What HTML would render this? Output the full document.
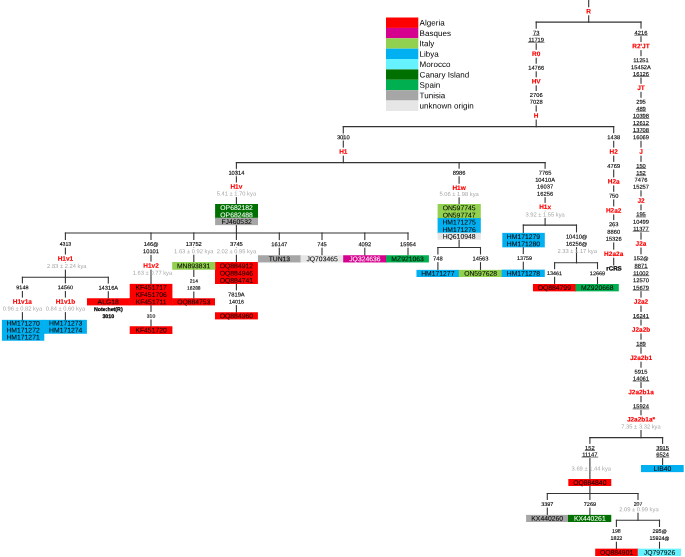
<!DOCTYPE html>
<html lang="en">
<head>
<meta charset="utf-8">
<title>Phylogenetic tree</title>
<style>
html,body{margin:0;padding:0;background:#fff;}
svg{display:block;font-family:'Liberation Sans', Arial, sans-serif;}
.ln line{stroke:#333;stroke-width:1.1;stroke-linecap:square;}
.mk rect{fill:#fff;}
text{text-anchor:middle;text-rendering:geometricPrecision;}
.n{font-size:5.75px;fill:#000;stroke:#000;stroke-width:0.12;}
.u{stroke:#222;stroke-width:0.6;}
.c{font-size:6.5px;font-weight:bold;fill:#ff0000;stroke:#ff0000;stroke-width:0.15;}
.k{font-size:5.77px;fill:#a6a6a6;}
.b{font-size:5.3px;font-weight:bold;fill:#000;stroke:#000;stroke-width:0.25;}
.x{font-size:6.8px;fill:#000;stroke:#000;stroke-width:0.05;}
.w{fill:#fff;stroke:#fff;}
.l{font-size:8.05px;fill:#000;text-anchor:start;}
</style>
</head>
<body>
<svg width="685" height="557" viewBox="0 0 685 557">
<rect width="685" height="557" fill="#fff"/>
<g class="ln">
<line x1="588.7" y1="0.0" x2="588.7" y2="22.1"/>
<line x1="536.2" y1="22.1" x2="641.0" y2="22.1"/>
<line x1="536.2" y1="22.1" x2="536.2" y2="126.6"/>
<line x1="641.0" y1="22.1" x2="641.0" y2="437.6"/>
<line x1="343.3" y1="126.6" x2="613.7" y2="126.6"/>
<line x1="343.3" y1="126.6" x2="343.3" y2="162.6"/>
<line x1="613.7" y1="126.6" x2="613.7" y2="265.0"/>
<line x1="236.4" y1="162.6" x2="545.1" y2="162.6"/>
<line x1="236.4" y1="162.6" x2="236.4" y2="312.2"/>
<line x1="65.4" y1="233.0" x2="408.0" y2="233.0"/>
<line x1="65.4" y1="233.0" x2="65.4" y2="277.2"/>
<line x1="22.4" y1="277.2" x2="108.3" y2="277.2"/>
<line x1="22.4" y1="277.2" x2="22.4" y2="319.8"/>
<line x1="65.4" y1="277.2" x2="65.4" y2="319.8"/>
<line x1="108.3" y1="277.2" x2="108.3" y2="298.2"/>
<line x1="151.0" y1="233.0" x2="151.0" y2="326.3"/>
<line x1="193.8" y1="233.0" x2="193.8" y2="298.2"/>
<line x1="279.3" y1="233.0" x2="279.3" y2="255.2"/>
<line x1="322.0" y1="233.0" x2="322.0" y2="255.2"/>
<line x1="364.8" y1="233.0" x2="364.8" y2="255.2"/>
<line x1="408.0" y1="233.0" x2="408.0" y2="255.2"/>
<line x1="459.1" y1="162.6" x2="459.1" y2="247.5"/>
<line x1="437.9" y1="247.5" x2="480.5" y2="247.5"/>
<line x1="437.9" y1="247.5" x2="437.9" y2="269.8"/>
<line x1="480.5" y1="247.5" x2="480.5" y2="269.8"/>
<line x1="545.1" y1="162.6" x2="545.1" y2="225.1"/>
<line x1="523.3" y1="225.1" x2="576.5" y2="225.1"/>
<line x1="523.3" y1="225.1" x2="523.3" y2="269.6"/>
<line x1="576.5" y1="225.1" x2="576.5" y2="262.8"/>
<line x1="554.6" y1="262.8" x2="597.5" y2="262.8"/>
<line x1="554.6" y1="262.8" x2="554.6" y2="283.9"/>
<line x1="597.5" y1="262.8" x2="597.5" y2="283.9"/>
<line x1="589.9" y1="437.6" x2="662.6" y2="437.6"/>
<line x1="589.9" y1="437.6" x2="589.9" y2="493.5"/>
<line x1="547.3" y1="493.5" x2="638.0" y2="493.5"/>
<line x1="547.3" y1="493.5" x2="547.3" y2="514.8"/>
<line x1="589.9" y1="493.5" x2="589.9" y2="514.8"/>
<line x1="638.0" y1="493.5" x2="638.0" y2="520.2"/>
<line x1="616.4" y1="520.2" x2="659.5" y2="520.2"/>
<line x1="616.4" y1="520.2" x2="616.4" y2="548.9"/>
<line x1="659.5" y1="520.2" x2="659.5" y2="548.9"/>
<line x1="662.6" y1="437.6" x2="662.6" y2="465.1"/>
</g>
<g class="mk">
<rect x="585.9" y="7.3" width="5.5" height="8.0"/>
<rect x="532.5" y="28.7" width="7.4" height="7.6"/>
<rect x="527.7" y="35.7" width="17.0" height="7.6"/>
<rect x="531.6" y="49.8" width="9.2" height="8.0"/>
<rect x="527.7" y="63.7" width="17.0" height="7.6"/>
<rect x="531.2" y="77.3" width="10.1" height="8.0"/>
<rect x="529.3" y="91.0" width="13.8" height="7.6"/>
<rect x="529.3" y="97.7" width="13.8" height="7.6"/>
<rect x="533.4" y="111.6" width="5.5" height="8.0"/>
<rect x="634.1" y="28.6" width="13.8" height="7.6"/>
<rect x="631.1" y="42.1" width="19.8" height="8.0"/>
<rect x="632.5" y="56.2" width="17.0" height="7.6"/>
<rect x="630.5" y="63.2" width="21.0" height="7.6"/>
<rect x="632.5" y="69.9" width="17.0" height="7.6"/>
<rect x="636.0" y="83.8" width="10.1" height="8.0"/>
<rect x="635.7" y="97.8" width="10.6" height="7.6"/>
<rect x="635.7" y="104.6" width="10.6" height="7.6"/>
<rect x="632.5" y="111.8" width="17.0" height="7.6"/>
<rect x="632.5" y="119.0" width="17.0" height="7.6"/>
<rect x="632.5" y="125.9" width="17.0" height="7.6"/>
<rect x="632.5" y="133.2" width="17.0" height="7.6"/>
<rect x="638.2" y="147.6" width="5.5" height="8.0"/>
<rect x="635.7" y="161.9" width="10.6" height="7.6"/>
<rect x="635.7" y="169.0" width="10.6" height="7.6"/>
<rect x="634.1" y="175.6" width="13.8" height="7.6"/>
<rect x="632.5" y="182.7" width="17.0" height="7.6"/>
<rect x="636.4" y="196.5" width="9.2" height="8.0"/>
<rect x="635.7" y="210.3" width="10.6" height="7.6"/>
<rect x="632.5" y="217.7" width="17.0" height="7.6"/>
<rect x="632.5" y="224.7" width="17.0" height="7.6"/>
<rect x="634.6" y="239.6" width="12.8" height="8.0"/>
<rect x="632.8" y="254.3" width="16.4" height="7.6"/>
<rect x="634.1" y="261.8" width="13.8" height="7.6"/>
<rect x="632.5" y="269.1" width="17.0" height="7.6"/>
<rect x="632.5" y="276.3" width="17.0" height="7.6"/>
<rect x="632.5" y="283.6" width="17.0" height="7.6"/>
<rect x="632.8" y="297.6" width="16.4" height="8.0"/>
<rect x="632.5" y="311.9" width="17.0" height="7.6"/>
<rect x="631.0" y="325.5" width="20.1" height="8.0"/>
<rect x="635.7" y="339.7" width="10.6" height="7.6"/>
<rect x="629.2" y="353.7" width="23.7" height="8.0"/>
<rect x="634.1" y="367.7" width="13.8" height="7.6"/>
<rect x="632.5" y="374.5" width="17.0" height="7.6"/>
<rect x="627.3" y="388.0" width="27.3" height="8.0"/>
<rect x="632.5" y="402.3" width="17.0" height="7.6"/>
<rect x="626.1" y="415.3" width="29.8" height="8.0"/>
<rect x="620.4" y="423.2" width="41.1" height="6.8"/>
<rect x="336.4" y="133.2" width="13.8" height="7.6" fill-opacity="0.65"/>
<rect x="338.7" y="147.6" width="9.2" height="8.0"/>
<rect x="606.8" y="133.2" width="13.8" height="7.6"/>
<rect x="609.1" y="147.6" width="9.2" height="8.0"/>
<rect x="606.8" y="161.9" width="13.8" height="7.6"/>
<rect x="607.3" y="177.4" width="12.8" height="8.0"/>
<rect x="608.4" y="191.8" width="10.6" height="7.6"/>
<rect x="605.5" y="206.4" width="16.4" height="8.0"/>
<rect x="608.4" y="220.1" width="10.6" height="7.6"/>
<rect x="606.8" y="227.7" width="13.8" height="7.6"/>
<rect x="605.2" y="234.8" width="17.0" height="7.6"/>
<rect x="603.7" y="249.7" width="20.1" height="8.0"/>
<rect x="227.9" y="168.8" width="17.0" height="7.6" fill-opacity="0.75"/>
<rect x="230.0" y="182.5" width="12.8" height="8.0"/>
<rect x="215.8" y="190.3" width="41.1" height="6.8"/>
<rect x="229.5" y="240.0" width="13.8" height="7.6"/>
<rect x="215.8" y="247.9" width="41.1" height="6.8"/>
<rect x="227.5" y="290.4" width="17.8" height="7.6"/>
<rect x="228.4" y="297.5" width="16.0" height="7.6"/>
<rect x="59.1" y="240.0" width="12.6" height="7.6"/>
<rect x="57.2" y="254.5" width="16.4" height="8.0"/>
<rect x="46.2" y="262.8" width="41.1" height="6.8"/>
<rect x="15.8" y="283.4" width="13.1" height="7.6"/>
<rect x="12.4" y="297.6" width="20.1" height="8.0"/>
<rect x="1.8" y="305.3" width="41.1" height="6.8"/>
<rect x="57.3" y="283.4" width="16.2" height="7.6"/>
<rect x="55.4" y="297.6" width="20.1" height="8.0"/>
<rect x="44.8" y="305.3" width="41.1" height="6.8"/>
<rect x="97.8" y="283.6" width="21.0" height="7.6"/>
<rect x="142.8" y="240.0" width="16.4" height="7.6"/>
<rect x="142.5" y="247.3" width="17.0" height="7.6"/>
<rect x="142.8" y="261.6" width="16.4" height="8.0"/>
<rect x="146.2" y="311.9" width="9.5" height="7.6"/>
<rect x="185.3" y="240.0" width="17.0" height="7.6"/>
<rect x="173.2" y="247.9" width="41.1" height="6.8"/>
<rect x="189.2" y="277.0" width="9.2" height="7.6"/>
<rect x="186.5" y="283.9" width="14.6" height="7.6"/>
<rect x="270.8" y="240.1" width="17.0" height="7.6"/>
<rect x="316.7" y="240.1" width="10.6" height="7.6"/>
<rect x="357.9" y="240.1" width="13.8" height="7.6"/>
<rect x="399.5" y="240.1" width="17.0" height="7.6"/>
<rect x="452.2" y="168.7" width="13.8" height="7.6"/>
<rect x="452.7" y="183.8" width="12.8" height="8.0"/>
<rect x="438.5" y="190.6" width="41.1" height="6.8"/>
<rect x="432.6" y="254.5" width="10.6" height="7.6"/>
<rect x="472.0" y="254.5" width="17.0" height="7.6"/>
<rect x="538.2" y="168.8" width="13.8" height="7.6"/>
<rect x="534.6" y="175.6" width="21.0" height="7.6"/>
<rect x="536.6" y="182.4" width="17.0" height="7.6"/>
<rect x="536.6" y="189.6" width="17.0" height="7.6"/>
<rect x="538.7" y="202.9" width="12.8" height="8.0"/>
<rect x="524.5" y="211.2" width="41.1" height="6.8"/>
<rect x="516.6" y="254.1" width="16.0" height="7.6"/>
<rect x="565.1" y="232.4" width="22.8" height="7.6"/>
<rect x="565.1" y="239.6" width="22.8" height="7.6"/>
<rect x="546.6" y="269.2" width="16.0" height="7.6"/>
<rect x="589.4" y="269.2" width="16.3" height="7.6"/>
<rect x="584.6" y="443.9" width="10.6" height="7.6"/>
<rect x="581.4" y="450.5" width="17.0" height="7.6"/>
<rect x="540.7" y="500.0" width="13.2" height="7.6"/>
<rect x="583.3" y="500.0" width="13.2" height="7.6"/>
<rect x="633.2" y="500.0" width="9.7" height="7.6"/>
<rect x="618.3" y="505.9" width="41.1" height="6.8"/>
<rect x="611.6" y="527.0" width="9.7" height="7.6"/>
<rect x="610.0" y="534.1" width="12.8" height="7.6"/>
<rect x="651.6" y="527.0" width="15.8" height="7.6"/>
<rect x="648.8" y="534.1" width="21.5" height="7.6"/>
<rect x="655.7" y="443.9" width="13.8" height="7.6"/>
<rect x="655.7" y="450.5" width="13.8" height="7.6"/>
</g>
<defs><clipPath id="bc">
<rect x="215.1" y="204.0" width="42.9" height="14.3"/>
<rect x="215.1" y="218.0" width="42.9" height="7.2"/>
<rect x="215.0" y="262.1" width="42.9" height="21.9"/>
<rect x="215.0" y="312.2" width="42.9" height="7.3"/>
<rect x="1.8" y="319.7" width="42.6" height="21.0"/>
<rect x="44.4" y="319.7" width="42.5" height="14.0"/>
<rect x="86.9" y="298.2" width="42.7" height="7.3"/>
<rect x="129.6" y="283.8" width="42.9" height="21.7"/>
<rect x="129.6" y="326.3" width="42.9" height="7.8"/>
<rect x="172.2" y="262.1" width="42.8" height="7.6"/>
<rect x="172.5" y="298.2" width="42.5" height="7.3"/>
<rect x="257.9" y="255.2" width="42.9" height="7.4"/>
<rect x="300.8" y="255.2" width="42.7" height="7.4"/>
<rect x="343.5" y="255.2" width="42.9" height="7.4"/>
<rect x="386.4" y="255.2" width="42.5" height="7.4"/>
<rect x="437.5" y="204.1" width="43.3" height="14.7"/>
<rect x="437.5" y="218.4" width="43.3" height="14.9"/>
<rect x="437.5" y="233.0" width="43.3" height="6.8"/>
<rect x="416.4" y="269.8" width="42.7" height="7.2"/>
<rect x="459.1" y="269.8" width="42.9" height="7.2"/>
<rect x="502.3" y="232.8" width="42.5" height="14.6"/>
<rect x="502.0" y="269.6" width="42.8" height="7.4"/>
<rect x="532.9" y="283.9" width="42.9" height="7.5"/>
<rect x="575.8" y="283.9" width="43.0" height="7.5"/>
<rect x="568.3" y="478.9" width="43.1" height="7.2"/>
<rect x="526.1" y="514.8" width="42.2" height="7.2"/>
<rect x="568.3" y="514.8" width="43.1" height="7.2"/>
<rect x="595.2" y="548.6" width="42.8" height="7.5"/>
<rect x="638.0" y="548.6" width="43.0" height="7.5"/>
<rect x="641.0" y="465.1" width="42.7" height="7.1"/>
</clipPath></defs>
<g clip-path="url(#bc)">
<rect x="214.8" y="203.7" width="43.5" height="14.9" fill="#007000"/>
<rect x="214.8" y="217.7" width="43.5" height="7.8" fill="#a6a6a6"/>
<rect x="214.7" y="261.8" width="43.5" height="22.5" fill="#ff0000"/>
<rect x="214.7" y="311.9" width="43.5" height="7.9" fill="#ff0000"/>
<rect x="1.5" y="319.4" width="43.2" height="21.6" fill="#00b0f0"/>
<rect x="44.1" y="319.4" width="43.1" height="14.6" fill="#00b0f0"/>
<rect x="86.6" y="297.9" width="43.3" height="7.9" fill="#ff0000"/>
<rect x="129.3" y="283.5" width="43.5" height="22.3" fill="#ff0000"/>
<rect x="129.3" y="326.0" width="43.5" height="8.3" fill="#ff0000"/>
<rect x="171.9" y="261.8" width="43.4" height="8.2" fill="#92d050"/>
<rect x="172.2" y="297.9" width="43.1" height="7.9" fill="#ff0000"/>
<rect x="257.6" y="254.9" width="43.5" height="8.0" fill="#a6a6a6"/>
<rect x="300.5" y="254.9" width="43.3" height="8.0" fill="#e6e6e6"/>
<rect x="343.2" y="254.9" width="43.5" height="8.0" fill="#d6008e"/>
<rect x="386.1" y="254.9" width="43.1" height="8.0" fill="#00b050"/>
<rect x="437.2" y="203.8" width="43.9" height="15.3" fill="#92d050"/>
<rect x="437.2" y="218.1" width="43.9" height="15.5" fill="#00b0f0"/>
<rect x="437.2" y="232.7" width="43.9" height="7.4" fill="#e6e6e6"/>
<rect x="416.1" y="269.5" width="43.3" height="7.8" fill="#00b0f0"/>
<rect x="458.8" y="269.5" width="43.5" height="7.8" fill="#92d050"/>
<rect x="502.0" y="232.5" width="43.1" height="15.2" fill="#00b0f0"/>
<rect x="501.7" y="269.3" width="43.4" height="8.0" fill="#00b0f0"/>
<rect x="532.6" y="283.6" width="43.5" height="8.1" fill="#ff0000"/>
<rect x="575.5" y="283.6" width="43.6" height="8.1" fill="#00b050"/>
<rect x="568.0" y="478.6" width="43.7" height="7.8" fill="#ff0000"/>
<rect x="525.8" y="514.5" width="42.8" height="7.8" fill="#a6a6a6"/>
<rect x="568.0" y="514.5" width="43.7" height="7.8" fill="#007000"/>
<rect x="594.9" y="548.3" width="43.4" height="8.1" fill="#ff0000"/>
<rect x="637.7" y="548.3" width="43.6" height="8.1" fill="#66f2ff"/>
<rect x="640.7" y="464.8" width="43.3" height="7.7" fill="#00b0f0"/>
</g>
<g class="bx">
<text class="x w" x="236.6" y="210.02" transform="rotate(0.05 236.6 210.02)">OP682182</text>
<text class="x w" x="236.6" y="217.20" transform="rotate(0.05 236.6 217.20)">OP682488</text>
<text class="x" x="236.6" y="224.06" transform="rotate(0.05 236.6 224.06)">FJ460532</text>
<text class="x" x="236.4" y="268.18" transform="rotate(0.05 236.4 268.18)">OQ884912</text>
<text class="x" x="236.4" y="275.46" transform="rotate(0.05 236.4 275.46)">OQ884946</text>
<text class="x" x="236.4" y="282.74" transform="rotate(0.05 236.4 282.74)">OQ884741</text>
<text class="x" x="236.4" y="318.26" transform="rotate(0.05 236.4 318.26)">OQ884960</text>
<text class="x" x="23.1" y="325.63" transform="rotate(0.05 23.1 325.63)">HM171270</text>
<text class="x" x="23.1" y="332.61" transform="rotate(0.05 23.1 332.61)">HM171272</text>
<text class="x" x="23.1" y="339.59" transform="rotate(0.05 23.1 339.59)">HM171271</text>
<text class="x" x="65.7" y="325.62" transform="rotate(0.05 65.7 325.62)">HM171273</text>
<text class="x" x="65.7" y="332.60" transform="rotate(0.05 65.7 332.60)">HM171274</text>
<text class="x" x="108.2" y="304.26" transform="rotate(0.05 108.2 304.26)">ALG18</text>
<text class="x" x="151.1" y="289.84" transform="rotate(0.05 151.1 289.84)">KF451717</text>
<text class="x" x="151.1" y="297.06" transform="rotate(0.05 151.1 297.06)">KF451706</text>
<text class="x" x="151.1" y="304.28" transform="rotate(0.05 151.1 304.28)">KF451711</text>
<text class="x" x="151.1" y="332.61" transform="rotate(0.05 151.1 332.61)">KF451720</text>
<text class="x" x="193.6" y="268.36" transform="rotate(0.05 193.6 268.36)">MN893831</text>
<text class="x" x="193.8" y="304.26" transform="rotate(0.05 193.8 304.26)">OQ884753</text>
<text class="x" x="279.4" y="261.31" transform="rotate(0.05 279.4 261.31)">TUN13</text>
<text class="x" x="322.1" y="261.31" transform="rotate(0.05 322.1 261.31)">JQ703465</text>
<text class="x w" x="364.9" y="261.31" transform="rotate(0.05 364.9 261.31)">JQ324636</text>
<text class="x" x="407.6" y="261.31" transform="rotate(0.05 407.6 261.31)">MZ921063</text>
<text class="x" x="459.1" y="210.20" transform="rotate(0.05 459.1 210.20)">ON597745</text>
<text class="x" x="459.1" y="217.52" transform="rotate(0.05 459.1 217.52)">ON597747</text>
<text class="x" x="459.1" y="224.57" transform="rotate(0.05 459.1 224.57)">HM171275</text>
<text class="x" x="459.1" y="232.05" transform="rotate(0.05 459.1 232.05)">HM171276</text>
<text class="x" x="459.1" y="238.86" transform="rotate(0.05 459.1 238.86)">HQ610948</text>
<text class="x" x="437.8" y="275.86" transform="rotate(0.05 437.8 275.86)">HM171277</text>
<text class="x" x="480.6" y="275.86" transform="rotate(0.05 480.6 275.86)">ON597628</text>
<text class="x" x="523.5" y="238.90" transform="rotate(0.05 523.5 238.90)">HM171279</text>
<text class="x" x="523.5" y="246.22" transform="rotate(0.05 523.5 246.22)">HM171280</text>
<text class="x" x="523.4" y="275.76" transform="rotate(0.05 523.4 275.76)">HM171278</text>
<text class="x" x="554.3" y="290.06" transform="rotate(0.05 554.3 290.06)">OQ884799</text>
<text class="x" x="597.3" y="290.06" transform="rotate(0.05 597.3 290.06)">MZ920668</text>
<text class="x" x="589.8" y="484.91" transform="rotate(0.05 589.8 484.91)">OQ884840</text>
<text class="x" x="547.2" y="520.81" transform="rotate(0.05 547.2 520.81)">KX440260</text>
<text class="x w" x="589.8" y="520.81" transform="rotate(0.05 589.8 520.81)">KX440261</text>
<text class="x" x="616.6" y="554.76" transform="rotate(0.05 616.6 554.76)">OQ884901</text>
<text class="x" x="659.5" y="554.76" transform="rotate(0.05 659.5 554.76)">JQ797926</text>
<text class="x" x="662.4" y="471.11" transform="rotate(0.05 662.4 471.11)">LIB40</text>
</g>
<g class="tx">
<text class="c" x="588.7" y="13.53" transform="rotate(0.05 588.7 13.53)">R</text>
<text class="n" x="536.2" y="34.76" transform="rotate(0.05 536.2 34.76)">73</text>
<line class="u" x1="532.7" y1="35.3" x2="539.7" y2="35.3"/>
<text class="n" x="536.2" y="41.76" transform="rotate(0.05 536.2 41.76)">11719</text>
<line class="u" x1="527.9" y1="42.3" x2="544.5" y2="42.3"/>
<text class="c" x="536.2" y="56.03" transform="rotate(0.05 536.2 56.03)">R0</text>
<text class="n" x="536.2" y="69.76" transform="rotate(0.05 536.2 69.76)">14766</text>
<text class="c" x="536.2" y="83.53" transform="rotate(0.05 536.2 83.53)">HV</text>
<text class="n" x="536.2" y="97.06" transform="rotate(0.05 536.2 97.06)">2706</text>
<text class="n" x="536.2" y="103.76" transform="rotate(0.05 536.2 103.76)">7028</text>
<text class="c" x="536.2" y="117.83" transform="rotate(0.05 536.2 117.83)">H</text>
<text class="n" x="641.0" y="34.66" transform="rotate(0.05 641.0 34.66)">4216</text>
<line class="u" x1="634.3" y1="35.2" x2="647.7" y2="35.2"/>
<text class="c" x="641.0" y="48.33" transform="rotate(0.05 641.0 48.33)">R2'JT</text>
<text class="n" x="641.0" y="62.26" transform="rotate(0.05 641.0 62.26)">11251</text>
<text class="n" x="641.0" y="69.26" transform="rotate(0.05 641.0 69.26)">15452A</text>
<text class="n" x="641.0" y="75.96" transform="rotate(0.05 641.0 75.96)">16126</text>
<line class="u" x1="632.7" y1="76.5" x2="649.3" y2="76.5"/>
<text class="c" x="641.0" y="90.03" transform="rotate(0.05 641.0 90.03)">JT</text>
<text class="n" x="641.0" y="103.86" transform="rotate(0.05 641.0 103.86)">295</text>
<text class="n" x="641.0" y="110.66" transform="rotate(0.05 641.0 110.66)">489</text>
<line class="u" x1="635.9" y1="111.2" x2="646.1" y2="111.2"/>
<text class="n" x="641.0" y="117.86" transform="rotate(0.05 641.0 117.86)">10398</text>
<line class="u" x1="632.7" y1="118.4" x2="649.3" y2="118.4"/>
<text class="n" x="641.0" y="125.06" transform="rotate(0.05 641.0 125.06)">12612</text>
<line class="u" x1="632.7" y1="125.6" x2="649.3" y2="125.6"/>
<text class="n" x="641.0" y="131.96" transform="rotate(0.05 641.0 131.96)">13708</text>
<line class="u" x1="632.7" y1="132.5" x2="649.3" y2="132.5"/>
<text class="n" x="641.0" y="139.26" transform="rotate(0.05 641.0 139.26)">16069</text>
<text class="c" x="641.0" y="153.83" transform="rotate(0.05 641.0 153.83)">J</text>
<text class="n" x="641.0" y="167.96" transform="rotate(0.05 641.0 167.96)">150</text>
<line class="u" x1="635.9" y1="168.5" x2="646.1" y2="168.5"/>
<text class="n" x="641.0" y="175.06" transform="rotate(0.05 641.0 175.06)">152</text>
<line class="u" x1="635.9" y1="175.6" x2="646.1" y2="175.6"/>
<text class="n" x="641.0" y="181.66" transform="rotate(0.05 641.0 181.66)">7476</text>
<text class="n" x="641.0" y="188.76" transform="rotate(0.05 641.0 188.76)">15257</text>
<text class="c" x="641.0" y="202.73" transform="rotate(0.05 641.0 202.73)">J2</text>
<text class="n" x="641.0" y="216.36" transform="rotate(0.05 641.0 216.36)">195</text>
<line class="u" x1="635.9" y1="216.9" x2="646.1" y2="216.9"/>
<text class="n" x="641.0" y="223.76" transform="rotate(0.05 641.0 223.76)">10499</text>
<text class="n" x="641.0" y="230.76" transform="rotate(0.05 641.0 230.76)">11377</text>
<line class="u" x1="632.7" y1="231.3" x2="649.3" y2="231.3"/>
<text class="c" x="641.0" y="245.83" transform="rotate(0.05 641.0 245.83)">J2a</text>
<text class="n" x="641.0" y="260.36" transform="rotate(0.05 641.0 260.36)">152<tspan font-weight="bold" font-size="0.92em">@</tspan></text>
<text class="n" x="641.0" y="267.86" transform="rotate(0.05 641.0 267.86)">8871</text>
<line class="u" x1="634.3" y1="268.4" x2="647.7" y2="268.4"/>
<text class="n" x="641.0" y="275.16" transform="rotate(0.05 641.0 275.16)">11002</text>
<line class="u" x1="632.7" y1="275.7" x2="649.3" y2="275.7"/>
<text class="n" x="641.0" y="282.36" transform="rotate(0.05 641.0 282.36)">12570</text>
<text class="n" x="641.0" y="289.66" transform="rotate(0.05 641.0 289.66)">15679</text>
<line class="u" x1="632.7" y1="290.2" x2="649.3" y2="290.2"/>
<text class="c" x="641.0" y="303.83" transform="rotate(0.05 641.0 303.83)">J2a2</text>
<text class="n" x="641.0" y="317.96" transform="rotate(0.05 641.0 317.96)">16241</text>
<line class="u" x1="632.7" y1="318.5" x2="649.3" y2="318.5"/>
<text class="c" x="641.0" y="331.73" transform="rotate(0.05 641.0 331.73)">J2a2b</text>
<text class="n" x="641.0" y="345.76" transform="rotate(0.05 641.0 345.76)">189</text>
<line class="u" x1="635.9" y1="346.3" x2="646.1" y2="346.3"/>
<text class="c" x="641.0" y="359.93" transform="rotate(0.05 641.0 359.93)">J2a2b1</text>
<text class="n" x="641.0" y="373.76" transform="rotate(0.05 641.0 373.76)">5915</text>
<text class="n" x="641.0" y="380.56" transform="rotate(0.05 641.0 380.56)">14061</text>
<line class="u" x1="632.7" y1="381.1" x2="649.3" y2="381.1"/>
<text class="c" x="641.0" y="394.23" transform="rotate(0.05 641.0 394.23)">J2a2b1a</text>
<text class="n" x="641.0" y="408.36" transform="rotate(0.05 641.0 408.36)">15924</text>
<line class="u" x1="632.7" y1="408.9" x2="649.3" y2="408.9"/>
<text class="c" x="641.0" y="421.53" transform="rotate(0.05 641.0 421.53)">J2a2b1a*</text>
<text class="k" x="641.0" y="428.50" transform="rotate(0.05 641.0 428.50)">7.35 ± 3.32 kya</text>
<text class="n" x="343.3" y="139.26" transform="rotate(0.05 343.3 139.26)">3010</text>
<text class="c" x="343.3" y="153.83" transform="rotate(0.05 343.3 153.83)">H1</text>
<text class="n" x="613.7" y="139.26" transform="rotate(0.05 613.7 139.26)">1438</text>
<text class="c" x="613.7" y="153.83" transform="rotate(0.05 613.7 153.83)">H2</text>
<text class="n" x="613.7" y="167.96" transform="rotate(0.05 613.7 167.96)">4769</text>
<text class="c" x="613.7" y="183.63" transform="rotate(0.05 613.7 183.63)">H2a</text>
<text class="n" x="613.7" y="197.86" transform="rotate(0.05 613.7 197.86)">750</text>
<text class="c" x="613.7" y="212.63" transform="rotate(0.05 613.7 212.63)">H2a2</text>
<text class="n" x="613.7" y="226.16" transform="rotate(0.05 613.7 226.16)">263</text>
<text class="n" x="613.7" y="233.76" transform="rotate(0.05 613.7 233.76)">8860</text>
<text class="n" x="613.7" y="240.86" transform="rotate(0.05 613.7 240.86)">15326</text>
<text class="c" x="613.7" y="255.93" transform="rotate(0.05 613.7 255.93)">H2a2a</text>
<text style="font-size:6.2px" class="b" x="614.0" y="270.62" transform="rotate(0.05 614.0 270.62)">rCRS</text>
<text class="n" x="236.4" y="174.86" transform="rotate(0.05 236.4 174.86)">10314</text>
<text class="c" x="236.4" y="188.73" transform="rotate(0.05 236.4 188.73)">H1v</text>
<text class="k" x="236.4" y="195.60" transform="rotate(0.05 236.4 195.60)">5.41 ± 1.70 kya</text>
<text class="n" x="236.4" y="246.06" transform="rotate(0.05 236.4 246.06)">3745</text>
<text class="k" x="236.4" y="253.20" transform="rotate(0.05 236.4 253.20)">2.02 ± 0.95 kya</text>
<text class="n" x="236.4" y="296.46" transform="rotate(0.05 236.4 296.46)">7819A</text>
<text style="font-size:5.4px" class="n" x="236.4" y="303.43" transform="rotate(0.05 236.4 303.43)">14016</text>
<text style="font-size:5.2px" class="n" x="65.4" y="245.86" transform="rotate(0.05 65.4 245.86)">4313</text>
<text class="c" x="65.4" y="260.73" transform="rotate(0.05 65.4 260.73)">H1v1</text>
<text class="k" x="66.8" y="268.10" transform="rotate(0.05 66.8 268.10)">2.83 ± 2.24 kya</text>
<text style="font-size:5.45px" class="n" x="22.4" y="289.35" transform="rotate(0.05 22.4 289.35)">9148</text>
<text class="c" x="22.4" y="303.83" transform="rotate(0.05 22.4 303.83)">H1v1a</text>
<text class="k" x="22.4" y="310.60" transform="rotate(0.05 22.4 310.60)">0.96 ± 0.82 kya</text>
<text style="font-size:5.45px" class="n" x="65.4" y="289.35" transform="rotate(0.05 65.4 289.35)">14560</text>
<text class="c" x="65.4" y="303.83" transform="rotate(0.05 65.4 303.83)">H1v1b</text>
<text class="k" x="65.4" y="310.60" transform="rotate(0.05 65.4 310.60)">0.84 ± 0.60 kya</text>
<text class="n" x="108.3" y="289.66" transform="rotate(0.05 108.3 289.66)">14316A</text>
<text class="b" x="108.3" y="310.90" transform="rotate(0.05 108.3 310.90)">Note:het(R)</text>
<text class="b" x="108.3" y="317.90" transform="rotate(0.05 108.3 317.90)">3010</text>
<text class="n" x="151.0" y="246.06" transform="rotate(0.05 151.0 246.06)">146<tspan font-weight="bold" font-size="0.92em">@</tspan></text>
<text class="n" x="151.0" y="253.36" transform="rotate(0.05 151.0 253.36)">10101</text>
<text class="c" x="151.0" y="267.83" transform="rotate(0.05 151.0 267.83)">H1v2</text>
<text class="k" x="152.5" y="274.70" transform="rotate(0.05 152.5 274.70)">1.63 ± 0.77 kya</text>
<text style="font-size:5.1px" class="n" x="151.0" y="317.73" transform="rotate(0.05 151.0 317.73)">310</text>
<text class="n" x="193.8" y="246.06" transform="rotate(0.05 193.8 246.06)">13752</text>
<text class="k" x="193.8" y="253.20" transform="rotate(0.05 193.8 253.20)">1.63 ± 0.92 kya</text>
<text style="font-size:4.9px" class="n" x="193.8" y="282.75" transform="rotate(0.05 193.8 282.75)">214</text>
<text style="font-size:4.9px" class="n" x="193.8" y="289.65" transform="rotate(0.05 193.8 289.65)">16288</text>
<text class="n" x="279.3" y="246.16" transform="rotate(0.05 279.3 246.16)">16147</text>
<text class="n" x="322.0" y="246.16" transform="rotate(0.05 322.0 246.16)">745</text>
<text class="n" x="364.8" y="246.16" transform="rotate(0.05 364.8 246.16)">4092</text>
<text class="n" x="408.0" y="246.16" transform="rotate(0.05 408.0 246.16)">15954</text>
<text class="n" x="459.1" y="174.76" transform="rotate(0.05 459.1 174.76)">8986</text>
<text class="c" x="459.1" y="190.03" transform="rotate(0.05 459.1 190.03)">H1w</text>
<text class="k" x="459.1" y="195.90" transform="rotate(0.05 459.1 195.90)">5.06 ± 1.98 kya</text>
<text class="n" x="437.9" y="260.56" transform="rotate(0.05 437.9 260.56)">748</text>
<text class="n" x="480.5" y="260.56" transform="rotate(0.05 480.5 260.56)">14563</text>
<text class="n" x="545.1" y="174.86" transform="rotate(0.05 545.1 174.86)">7765</text>
<text class="n" x="545.1" y="181.66" transform="rotate(0.05 545.1 181.66)">10410A</text>
<text class="n" x="545.1" y="188.46" transform="rotate(0.05 545.1 188.46)">16037</text>
<text class="n" x="545.1" y="195.66" transform="rotate(0.05 545.1 195.66)">16256</text>
<text class="c" x="545.1" y="209.13" transform="rotate(0.05 545.1 209.13)">H1x</text>
<text class="k" x="545.1" y="216.50" transform="rotate(0.05 545.1 216.50)">3.92 ± 1.55 kya</text>
<text style="font-size:5.4px" class="n" x="524.6" y="260.03" transform="rotate(0.05 524.6 260.03)">13759</text>
<text class="n" x="576.5" y="238.46" transform="rotate(0.05 576.5 238.46)">10410<tspan font-weight="bold" font-size="0.92em">@</tspan></text>
<text class="n" x="576.5" y="245.66" transform="rotate(0.05 576.5 245.66)">16256<tspan font-weight="bold" font-size="0.92em">@</tspan></text>
<text class="k" x="577.2" y="253.10" transform="rotate(0.05 577.2 253.10)">2.33 ± 1.17 kya</text>
<text style="font-size:5.4px" class="n" x="554.6" y="275.13" transform="rotate(0.05 554.6 275.13)">13461</text>
<text style="font-size:5.5px" class="n" x="597.5" y="275.17" transform="rotate(0.05 597.5 275.17)">12669</text>
<text class="n" x="589.9" y="449.96" transform="rotate(0.05 589.9 449.96)">152</text>
<line class="u" x1="584.8" y1="450.5" x2="595.0" y2="450.5"/>
<text class="n" x="589.9" y="456.56" transform="rotate(0.05 589.9 456.56)">11147</text>
<line class="u" x1="581.6" y1="457.1" x2="598.2" y2="457.1"/>
<text class="k" x="591.3" y="470.60" transform="rotate(0.05 591.3 470.60)">3.69 ± 1.44 kya</text>
<text style="font-size:5.5px" class="n" x="547.3" y="505.97" transform="rotate(0.05 547.3 505.97)">3397</text>
<text style="font-size:5.5px" class="n" x="589.9" y="505.97" transform="rotate(0.05 589.9 505.97)">7269</text>
<text style="font-size:5.2px" class="n" x="638.0" y="505.86" transform="rotate(0.05 638.0 505.86)">207</text>
<text class="k" x="638.9" y="511.20" transform="rotate(0.05 638.9 511.20)">2.09 ± 0.99 kya</text>
<text style="font-size:5.2px" class="n" x="616.4" y="532.86" transform="rotate(0.05 616.4 532.86)">198</text>
<text style="font-size:5.3px" class="n" x="616.4" y="540.00" transform="rotate(0.05 616.4 540.00)">1822</text>
<text style="font-size:5.5px" class="n" x="659.5" y="532.97" transform="rotate(0.05 659.5 532.97)">295<tspan font-weight="bold" font-size="0.92em">@</tspan></text>
<text style="font-size:5.4px" class="n" x="659.5" y="540.03" transform="rotate(0.05 659.5 540.03)">15924<tspan font-weight="bold" font-size="0.92em">@</tspan></text>
<text class="n" x="662.6" y="449.96" transform="rotate(0.05 662.6 449.96)">3915</text>
<line class="u" x1="655.9" y1="450.5" x2="669.3" y2="450.5"/>
<text class="n" x="662.6" y="456.56" transform="rotate(0.05 662.6 456.56)">6524</text>
<line class="u" x1="655.9" y1="457.1" x2="669.3" y2="457.1"/>
</g>
<g class="lg">
<rect x="386.0" y="17.50" width="32.3" height="10.43" fill="#ff0000"/>
<text class="l" x="419.6" y="25.57" transform="rotate(0.05 419.6 25.57)">Algeria</text>
<rect x="386.0" y="27.88" width="32.3" height="10.43" fill="#d6008e"/>
<text class="l" x="419.6" y="35.95" transform="rotate(0.05 419.6 35.95)">Basques</text>
<rect x="386.0" y="38.26" width="32.3" height="10.43" fill="#92d050"/>
<text class="l" x="419.6" y="46.33" transform="rotate(0.05 419.6 46.33)">Italy</text>
<rect x="386.0" y="48.63" width="32.3" height="10.43" fill="#00b0f0"/>
<text class="l" x="419.6" y="56.70" transform="rotate(0.05 419.6 56.70)">Libya</text>
<rect x="386.0" y="59.01" width="32.3" height="10.43" fill="#66f2ff"/>
<text class="l" x="419.6" y="67.08" transform="rotate(0.05 419.6 67.08)">Morocco</text>
<rect x="386.0" y="69.39" width="32.3" height="10.43" fill="#007000"/>
<text class="l" x="419.6" y="77.46" transform="rotate(0.05 419.6 77.46)">Canary Island</text>
<rect x="386.0" y="79.77" width="32.3" height="10.43" fill="#00b050"/>
<text class="l" x="419.6" y="87.84" transform="rotate(0.05 419.6 87.84)">Spain</text>
<rect x="386.0" y="90.14" width="32.3" height="10.43" fill="#a6a6a6"/>
<text class="l" x="419.6" y="98.22" transform="rotate(0.05 419.6 98.22)">Tunisia</text>
<rect x="386.0" y="100.52" width="32.3" height="10.43" fill="#e6e6e6"/>
<text class="l" x="419.6" y="108.59" transform="rotate(0.05 419.6 108.59)">unknown origin</text>
</g>
</svg>
</body>
</html>
